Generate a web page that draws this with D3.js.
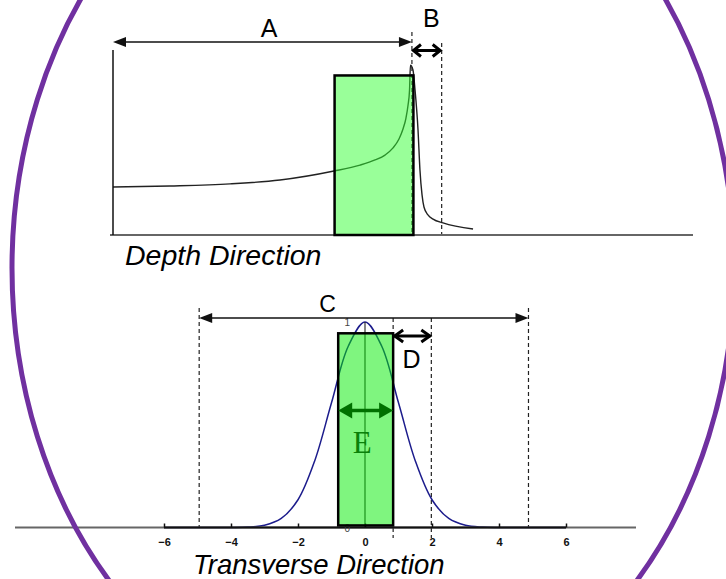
<!DOCTYPE html>
<html>
<head>
<meta charset="utf-8">
<script src="https://cdn.jsdelivr.net/npm/d3@7"></script>
<style>
  html, body { margin: 0; padding: 0; background: #fff; }
  svg { display: block; }
</style>
</head>
<body>
<svg id="chart" width="726" height="579"></svg>
<script>
// Depth profile (mm, relative dose) — slow build-up then a sharp Bragg-like peak
const depthX = [0, 3.83, 7.87, 11.23, 14.86, 16.61, 17.62, 18.29, 18.83, 19.23, 19.5, 19.7, 19.84, 19.94, 20.0, 20.17, 20.31, 20.51, 20.64, 20.78, 20.91, 21.18, 21.52, 22.19, 24.21];
const depthY = [0.283, 0.289, 0.301, 0.324, 0.377, 0.412, 0.442, 0.471, 0.513, 0.566, 0.625, 0.689, 0.766, 0.854, 1.0, 0.972, 0.854, 0.619, 0.383, 0.236, 0.165, 0.118, 0.094, 0.071, 0.035];

// Depth markers (mm)
const depthRange = [14.9, 20.2];      // green window
const depthPeak = 20.1;               // A ends here, B starts
const depthFallEnd = 22.1;            // B ends here
const depthLabels = ["A", "B"];

// Transverse profile
const transX = [-6, -5, -4.5, -4, -3.5, -3, -2.5, -2, -1.5, -1, -0.5, 0, 0.5, 1, 1.5, 2, 2.5, 3, 3.5, 4, 4.5, 5, 6];
const transY = [0, 0, 0, 0.0004, 0.002, 0.011, 0.044, 0.135, 0.325, 0.607, 0.882, 1.0, 0.882, 0.607, 0.325, 0.135, 0.044, 0.011, 0.002, 0.0004, 0, 0, 0];
const transTicks = [-6, -4, -2, 0, 2, 4, 6];
const transRange = [-0.8, 0.84];      // green window (E)
const transRangeY = [0.01, 0.945];
const transSpan = [-4.95, 4.88];      // C
const transEdge = 1.98;               // D ends here
const transLabels = ["C", "D", "E"];

const SANS = "'Liberation Sans', Arial, sans-serif";
const SERIF = "'Liberation Serif', 'Times New Roman', serif";

const svg = d3.select("#chart");

// ---------- helpers ----------
function filledArrow(g, x1, x2, y, opt) {
  const len = opt.len, hw = opt.hw;
  g.append("line").attr("x1", x1 + len * 0.6).attr("x2", x2 - len * 0.6)
    .attr("y1", y).attr("y2", y)
    .attr("stroke", opt.color).attr("stroke-width", opt.width);
  g.append("path").attr("d", `M${x1},${y}L${x1 + len},${y - hw}L${x1 + len},${y + hw}Z`).attr("fill", opt.color);
  g.append("path").attr("d", `M${x2},${y}L${x2 - len},${y - hw}L${x2 - len},${y + hw}Z`).attr("fill", opt.color);
}
function openArrow(g, x1, x2, y, opt) {
  const len = opt.len, hw = opt.hw;
  g.append("line").attr("x1", x1 + 1).attr("x2", x2 - 1).attr("y1", y).attr("y2", y)
    .attr("stroke", opt.color).attr("stroke-width", opt.width);
  g.append("path").attr("d", `M${x1 + len},${y - hw}L${x1 + 1.5},${y}L${x1 + len},${y + hw}`)
    .attr("fill", "none").attr("stroke", opt.color).attr("stroke-width", opt.width);
  g.append("path").attr("d", `M${x2 - len},${y - hw}L${x2 - 1.5},${y}L${x2 - len},${y + hw}`)
    .attr("fill", "none").attr("stroke", opt.color).attr("stroke-width", opt.width);
}
function dashed(g, x, y1, y2) {
  g.append("line").attr("x1", x).attr("x2", x).attr("y1", y1).attr("y2", y2)
    .attr("stroke", "#222").attr("stroke-width", 1.2).attr("stroke-dasharray", "4,3");
}
function label(g, x, y, size, txt, anchor) {
  return g.append("text").attr("x", x).attr("y", y).attr("text-anchor", anchor || "middle")
    .style("font-family", SANS).style("font-size", size + "px").attr("fill", "#000").text(txt);
}

// ---------- depth panel ----------
const xD = d3.scaleLinear([0, 39], [113, 693]);
const yD = d3.scaleLinear([0, 1.09], [235, 50]);
const depthG = svg.append("g");

dashed(depthG, xD(depthPeak), 32, yD(0));
dashed(depthG, xD(depthFallEnd), 43, yD(0));

depthG.append("path")
  .datum(depthX.map((d, i) => [d, depthY[i]]))
  .attr("fill", "none").attr("stroke", "#222").attr("stroke-width", 1.4)
  .attr("d", d3.line().x(d => xD(d[0])).y(d => yD(d[1])).curve(d3.curveMonotoneX));

// axes
depthG.append("line").attr("x1", xD(0) - 3).attr("x2", xD(39)).attr("y1", yD(0)).attr("y2", yD(0))
  .attr("stroke", "#666").attr("stroke-width", 2);
depthG.append("line").attr("x1", xD(0)).attr("x2", xD(0)).attr("y1", yD(0)).attr("y2", yD(1.09))
  .attr("stroke", "#111").attr("stroke-width", 1.5);

depthG.append("rect")
  .attr("x", xD(depthRange[0])).attr("y", yD(0.94))
  .attr("width", xD(depthRange[1]) - xD(depthRange[0])).attr("height", yD(0) - yD(0.94))
  .attr("fill", "#33ff33").attr("fill-opacity", 0.5)
  .attr("stroke", "#000").attr("stroke-width", 2.5);

filledArrow(depthG, xD(0), xD(depthPeak), 42, { len: 13, hw: 5, color: "#111", width: 1.5 });
openArrow(depthG, xD(depthPeak), xD(depthFallEnd), 50.5, { len: 9, hw: 6, color: "#000", width: 3 });

label(depthG, xD(10.5), 37, 25, depthLabels[0]);
label(depthG, xD(21.4), 27, 25, depthLabels[1]);
label(depthG, 125, 265, 28.5, "Depth Direction", "start").style("font-style", "italic");

// ---------- transverse panel ----------
const xT = d3.scaleLinear([-6, 6], [164, 566]);
const yT = d3.scaleLinear([0, 1], [527.5, 322]);
const transG = svg.append("g");

dashed(transG, xT(transSpan[0]), 308, yT(0));
dashed(transG, xT(transSpan[1]), 308, yT(0));
dashed(transG, xT(transRange[1]), 318, 538);
dashed(transG, xT(transEdge), 318, 538);

transG.append("path")
  .datum(transX.map((d, i) => [d, transY[i]]))
  .attr("fill", "none").attr("stroke", "#1c1c8c").attr("stroke-width", 1.5)
  .attr("d", d3.line().x(d => xT(d[0])).y(d => yT(d[1])).curve(d3.curveCatmullRom));

// centre line of the profile
transG.append("line").attr("x1", xT(0)).attr("x2", xT(0)).attr("y1", yT(1)).attr("y2", yT(0))
  .attr("stroke", "#222").attr("stroke-width", 1.1);

// long baseline and axis
transG.append("line").attr("x1", 15).attr("x2", 636).attr("y1", yT(0)).attr("y2", yT(0))
  .attr("stroke", "#666").attr("stroke-width", 2);
const axis = transG.append("g").attr("transform", `translate(0,${yT(0)})`)
  .call(d3.axisBottom(xT).tickValues(transTicks).tickSize(-4).tickPadding(10.2).tickFormat(d3.format("d")));
axis.select(".domain").attr("stroke", "#111").attr("stroke-width", 2).attr("d", `M${xT(-6)},0H${xT(6)}`);
axis.selectAll(".tick line").attr("stroke", "#111").attr("stroke-width", 1.5);
axis.selectAll(".tick text").style("font-family", SANS)
  .style("font-size", "11px").style("font-weight", "bold").attr("fill", "#111");

label(transG, xT(-0.53), yT(1) + 4, 10, "1").attr("fill", "#444");
label(transG, xT(-0.53), yT(0) + 4, 10, "0").attr("fill", "#444");

transG.append("rect")
  .attr("x", xT(transRange[0])).attr("y", yT(transRangeY[1]))
  .attr("width", xT(transRange[1]) - xT(transRange[0]))
  .attr("height", yT(transRangeY[0]) - yT(transRangeY[1]))
  .attr("fill", "#00eb00").attr("fill-opacity", 0.5)
  .attr("stroke", "#000").attr("stroke-width", 2.5);

filledArrow(transG, xT(transSpan[0]), xT(transSpan[1]), 318, { len: 13, hw: 5, color: "#111", width: 1.5 });
openArrow(transG, xT(transRange[1]), xT(transEdge), 336, { len: 10, hw: 6, color: "#000", width: 3 });
filledArrow(transG, xT(transRange[0]), xT(transRange[1]), 410.5, { len: 14, hw: 8, color: "#007000", width: 3.5 });

label(transG, 327.5, 311.5, 23, transLabels[0]);
label(transG, 411.5, 368, 25, transLabels[1]);
label(transG, xT(-0.08), 453, 31, transLabels[2]).style("font-family", SERIF).attr("fill", "#0a800a");
label(transG, 193, 573.5, 27.5, "Transverse Direction", "start").style("font-style", "italic");

// ---------- outline ----------
svg.append("ellipse").attr("cx", 373).attr("cy", 268).attr("rx", 361).attr("ry", 458)
  .attr("fill", "none").attr("stroke", "#7030a0").attr("stroke-width", 5);
</script>
</body>
</html>
